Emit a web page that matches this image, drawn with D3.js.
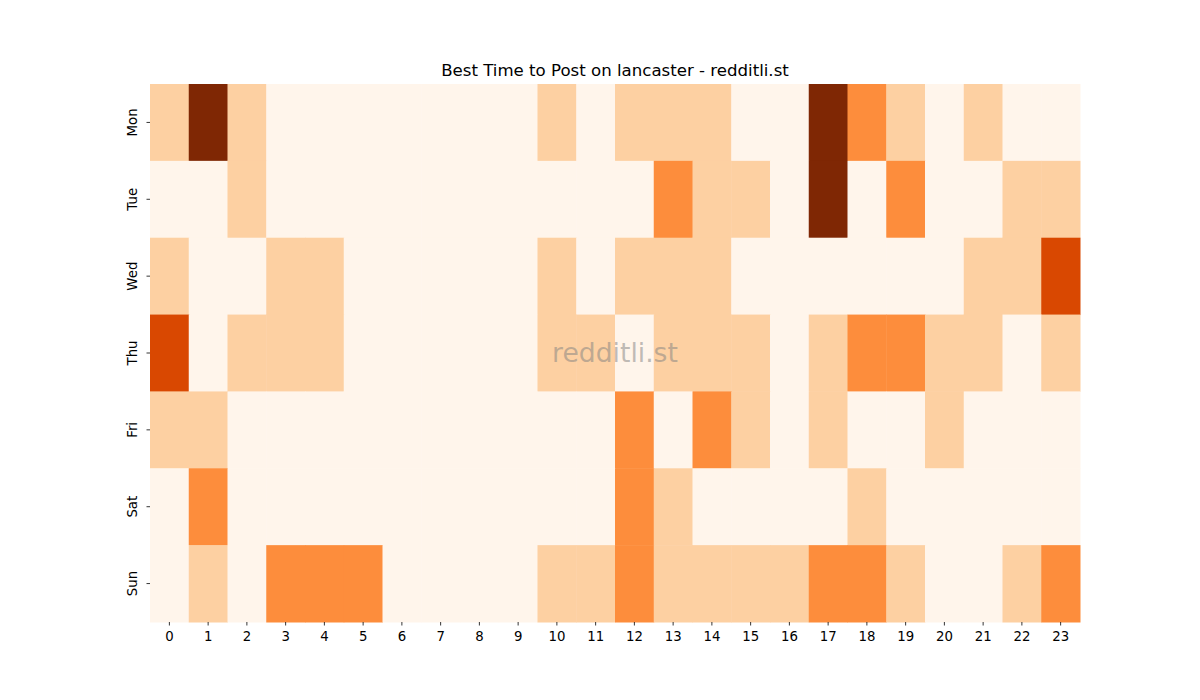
<!DOCTYPE html>
<html>
<head>
<meta charset="utf-8">
<script src="https://cdn.jsdelivr.net/npm/d3@7"></script>
<style>
  body { margin: 0; background: #fff; }
  text { font-family: "DejaVu Sans", sans-serif; }
</style>
</head>
<body>
<div id="chart"></div>
<script>
// heatmap levels per day, hours 0..23
var days = ["Mon", "Tue", "Wed", "Thu", "Fri", "Sat", "Sun"];
var hours = d3.range(24);
var mon = [1,4,1,0,0,0,0,0,0,0,1,0,1,1,1,0,0,4,2,1,0,1,0,0];
var tue = [0,0,1,0,0,0,0,0,0,0,0,0,0,2,1,1,0,4,0,2,0,0,1,1];
var wed = [1,0,0,1,1,0,0,0,0,0,1,0,1,1,1,0,0,0,0,0,0,1,1,3];
var thu = [3,0,1,1,1,0,0,0,0,0,1,1,0,1,1,1,0,1,2,2,1,1,0,1];
var fri = [1,1,0,0,0,0,0,0,0,0,0,0,2,0,2,1,0,1,0,0,1,0,0,0];
var sat = [0,2,0,0,0,0,0,0,0,0,0,0,2,1,0,0,0,0,1,0,0,0,0,0];
var sun = [0,1,0,2,2,2,0,0,0,0,1,1,2,1,1,1,1,2,2,1,0,0,1,2];
var rows = [mon, tue, wed, thu, fri, sat, sun];
var levels = [0, 1, 2, 3, 4];
var palette = ["#fff5eb", "#fdd0a2", "#fd8d3c", "#d94801", "#7f2704"];

var width = 1200, height = 700;
var margin = {top: 84, right: 120, bottom: 78, left: 150};

var svg = d3.select("#chart").append("svg")
    .attr("width", width)
    .attr("height", height);

var x = d3.scaleBand().domain(hours).range([margin.left, width - margin.right]);
var y = d3.scaleBand().domain(days).range([margin.top, height - margin.bottom]);
var color = d3.scaleOrdinal().domain(levels).range(palette);

var cells = [];
rows.forEach(function(r, i) {
    r.forEach(function(v, h) {
        cells.push({day: days[i], hour: h, value: v});
    });
});

svg.append("g").selectAll("rect")
    .data(cells)
    .enter().append("rect")
    .attr("x", function(d) { return x(d.hour); })
    .attr("y", function(d) { return y(d.day); })
    .attr("width", x.bandwidth() + 0.5)
    .attr("height", y.bandwidth() + 0.5)
    .attr("fill", function(d) { return color(d.value); });

var xAxis = svg.append("g")
    .attr("transform", "translate(0," + (height - margin.bottom) + ")")
    .call(d3.axisBottom(x).tickSize(3.5).tickPadding(6));
var yAxis = svg.append("g")
    .attr("transform", "translate(" + margin.left + ",0)")
    .call(d3.axisLeft(y).tickSize(3.5).tickPadding(4));

[xAxis, yAxis].forEach(function(a) {
    a.select(".domain").remove();
    a.selectAll("text").attr("font-size", "13.3px").attr("fill", "#000")
        .style("font-family", "DejaVu Sans, sans-serif");
    a.selectAll("line").attr("stroke", "#000").attr("stroke-width", 0.8);
});

yAxis.selectAll(".tick text")
    .attr("text-anchor", "middle")
    .attr("x", null).attr("dy", null)
    .attr("transform", "translate(-17,0) rotate(-90)")
    .attr("dominant-baseline", "middle");

svg.append("text")
    .attr("x", (margin.left + width - margin.right) / 2)
    .attr("y", 76)
    .attr("text-anchor", "middle")
    .attr("font-size", "16.6px")
    .text("Best Time to Post on lancaster - redditli.st");

svg.append("text")
    .attr("x", (margin.left + width - margin.right) / 2)
    .attr("y", 362)
    .attr("text-anchor", "middle")
    .attr("font-size", "26.6px")
    .attr("fill", "#808080")
    .attr("fill-opacity", 0.5)
    .text("redditli.st");
</script>
</body>
</html>
